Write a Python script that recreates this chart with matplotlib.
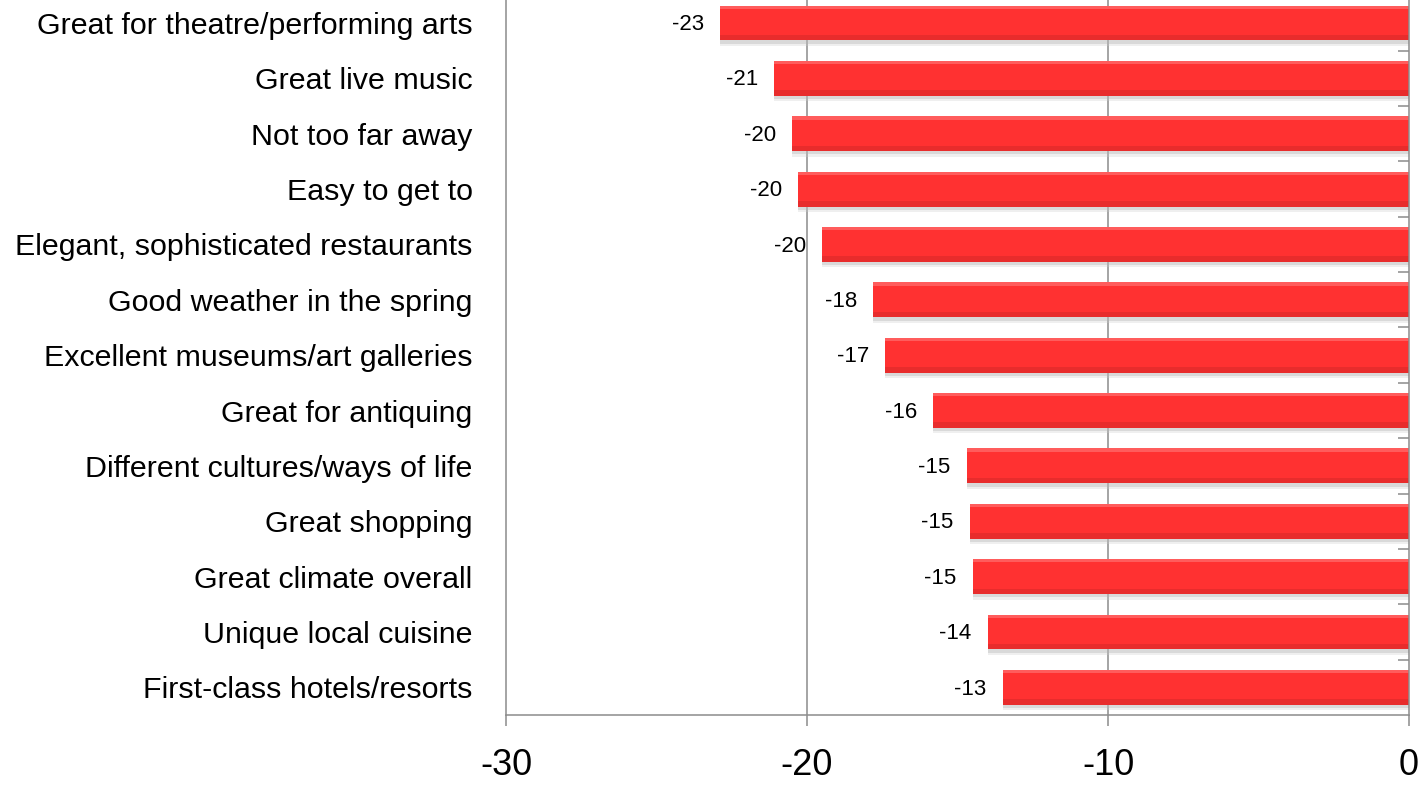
import matplotlib.pyplot as plt
import numpy as np

# categories listed top to bottom, as in the chart
categories = [
    "Great for theatre/performing arts",
    "Great live music",
    "Not too far away",
    "Easy to get to",
    "Elegant, sophisticated restaurants",
    "Good weather in the spring",
    "Excellent museums/art galleries",
    "Great for antiquing",
    "Different cultures/ways of life",
    "Great shopping",
    "Great climate overall",
    "Unique local cuisine",
    "First-class hotels/resorts",
]
values = [-22.9, -21.1, -20.5, -20.3, -19.5, -17.8, -17.4,
          -15.8, -14.7, -14.6, -14.5, -14.0, -13.5]
value_labels = ["-23", "-21", "-20", "-20", "-20", "-18", "-17",
                "-16", "-15", "-15", "-15", "-14", "-13"]
x_ticks = [-30, -20, -10, 0]


def main():
    plt.rcParams['font.family'] = ['Liberation Sans', 'DejaVu Sans']
    fig = plt.figure(figsize=(14.24, 7.86), dpi=100)
    ax = fig.add_axes([0.3553, 0.0903, 0.6342, 0.9157])

    n = len(categories)
    y = np.arange(n)[::-1]
    h = 0.63
    grey = '#8c8c8c'

    # soft drop shadow, then the red bar with a light top and dark bottom edge
    ax.barh(y - 0.06, values, height=h, color='#a8a8a8', alpha=0.35, zorder=2)
    ax.barh(y - 0.1, values, height=h, color='#cccccc', alpha=0.3, zorder=2)
    ax.barh(y, values, height=h, color='#ff3131', zorder=3)
    ax.barh(y + h / 2 - 0.03, values, height=0.06, color='#ff5c5c', zorder=4)
    ax.barh(y - h / 2 + 0.05, values, height=0.1, color='#e82c2c', zorder=4)

    for yi, v, lab in zip(y, values, value_labels):
        ax.text(v - 0.53, yi - 0.03, lab, ha='right', va='center',
                fontsize=16, zorder=5)

    ax.set_xlim(-30, 0)
    ax.set_ylim(-0.5, n - 0.5)
    ax.set_xticks(x_ticks)
    ax.set_xticklabels([str(t) for t in x_ticks], fontsize=26)
    ax.set_yticks(y)
    ax.set_yticklabels(categories, fontsize=21.9)
    ax.set_yticks(np.arange(n - 1) + 0.5, minor=True)

    ax.tick_params(axis='y', which='major', length=0, pad=24)
    ax.tick_params(axis='y', which='minor', left=False, right=True,
                   direction='in', length=8, width=1.1, color=grey)
    ax.tick_params(axis='x', which='major', direction='out', length=8,
                   width=1.1, color=grey, pad=16)

    for t in [-20, -10]:
        ax.axvline(t, color=grey, lw=1.1, zorder=1)
    for side in ['left', 'right', 'bottom']:
        ax.spines[side].set_color(grey)
        ax.spines[side].set_linewidth(1.1)
        ax.spines[side].set_zorder(6)
    ax.spines['top'].set_visible(False)

    fig.savefig('out.png', dpi=100)


if __name__ == "__main__":
    main()
